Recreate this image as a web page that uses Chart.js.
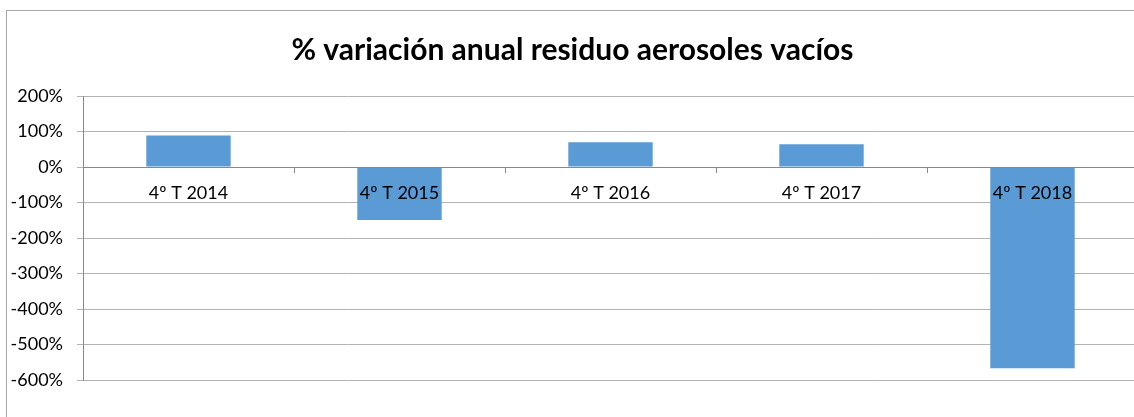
<!DOCTYPE html>
<html>
<head>
<meta charset="utf-8">
<script src="https://cdn.jsdelivr.net/npm/chart.js@4"></script>
<style>
  html, body { margin: 0; padding: 0; overflow: hidden; background: #fff; }
  #box {
    position: absolute; left: 6px; top: 10px;
    width: 1140px; height: 406px;
    border-left: 1px solid #a6a6a6; border-top: 1px solid #a6a6a6;
  }
</style>
</head>
<body>
<div id="box"><canvas id="chart" width="1140" height="406"></canvas></div>
<script>
const categories = ["4º T 2014", "4º T 2015", "4º T 2016", "4º T 2017", "4º T 2018"];
const variation = [89, -149, 70, 64, -567];
const yMin = -600;
const yMax = 200;
const yStep = 100;

const ctx = document.getElementById("chart");

new Chart(ctx, {
  type: "bar",
  data: {
    labels: categories,
    datasets: [
      {
        label: "% variación",
        data: variation,
        backgroundColor: "#5b9bd5",
        borderWidth: 0,
        categoryPercentage: 1,
        barPercentage: 0.4,
      },
    ],
  },
  options: {
    responsive: false,
    animation: false,
    layout: { padding: { right: 9, bottom: 37 } },
    plugins: {
      legend: { display: false },
      tooltip: { enabled: false },
      title: {
        display: true,
        text: "% variación anual residuo aerosoles vacíos",
        color: "#000",
        font: { family: "Lato", size: 30, weight: "bold", lineHeight: 1.2 },
        padding: { top: 21, bottom: 28 },
      },
    },
    scales: {
      x: {
        position: { y: 0 },
        grid: {
          drawOnChartArea: false,
          drawTicks: true,
          tickLength: 5,
          color: "#888",
          z: 1,
        },
        border: { color: "#888", width: 1, z: 1 },
        ticks: {
          color: "#000",
          padding: 10,
          maxRotation: 0,
          autoSkip: false,
          z: 1,
          font: { family: "Lato", size: 18 },
        },
      },
      y: {
        min: yMin,
        max: yMax,
        afterFit: (scale) => { scale.width = 76; },
        grid: { color: "#b3b3b3", tickLength: 6 },
        border: { color: "#888", width: 1 },
        ticks: {
          stepSize: yStep,
          color: "#000",
          padding: 14,
          font: { family: "Lato", size: 18 },
          callback: (v) => v + "%",
        },
      },
    },
  },
});
</script>
</body>
</html>
